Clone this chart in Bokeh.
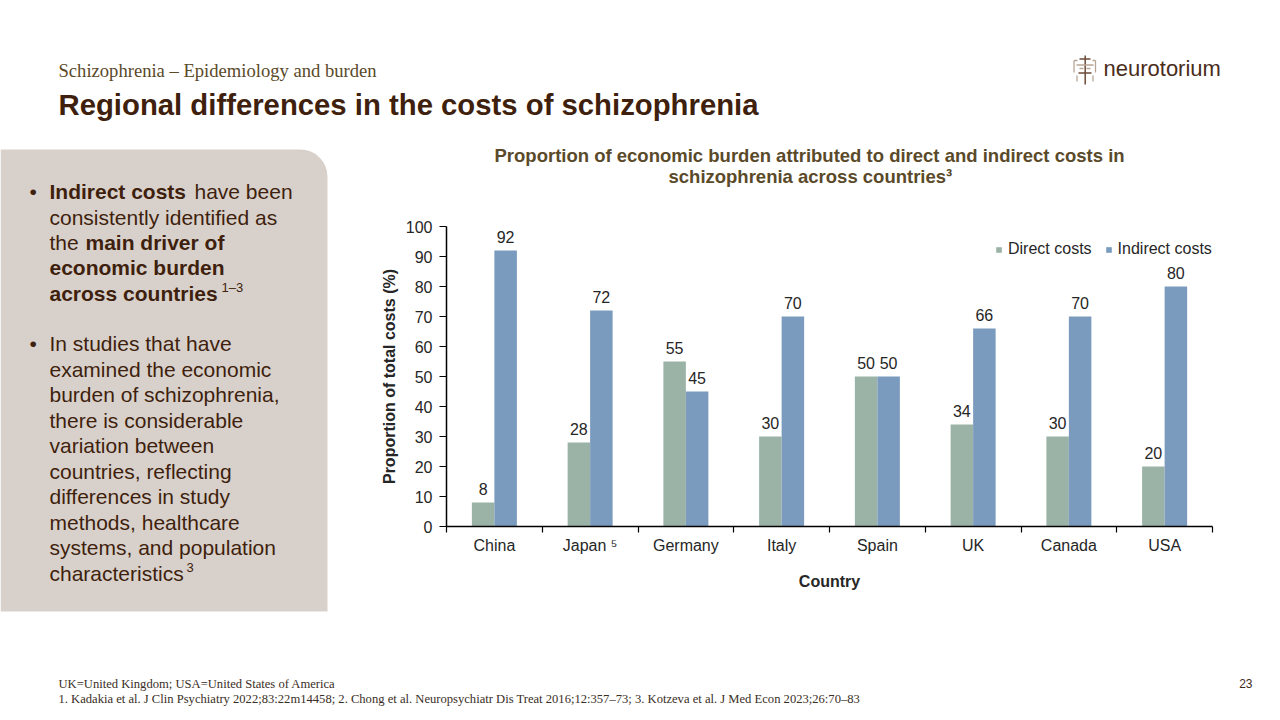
from bokeh.plotting import figure
from bokeh.models import (Range1d, FixedTicker, Label, LabelSet, BoxAnnotation,
                          ColumnDataSource, Legend, LegendItem)
from bokeh.layouts import row, column
from bokeh.core.properties import value
from bokeh.embed import file_html
from bokeh.resources import INLINE
import numpy as np

# ---------------- data ----------------
countries = ["China", "Japan", "Germany", "Italy", "Spain", "UK", "Canada", "USA"]
tick_labels = ["China", "Japan \u2075", "Germany", "Italy", "Spain", "UK", "Canada", "USA"]
direct = [8, 28, 55, 30, 50, 34, 30, 20]
indirect = [92, 72, 45, 70, 50, 66, 70, 80]
y_ticks = list(range(0, 101, 10))
series_names = ["Direct costs", "Indirect costs"]

# ---------------- styles ----------------
C_DIRECT = "#9BB3A7"
C_INDIRECT = "#7A9BBD"
C_PANEL = "#D8D1CB"
C_BROWN = "#3F1F0D"
C_OLIVE = "#5A4A2A"
C_TXT = "#262626"
SANS = "Liberation Sans"
SERIF = "Liberation Serif"


def deco(x0, x1, y0, y1, border_l=0, border_r=0):
    """A text/decoration figure; data coords = page pixels inside its frame."""
    f = figure(width=x1 - x0, height=y1 - y0,
               x_range=Range1d(x0 + border_l, x1 - border_r), y_range=Range1d(y1, y0),
               x_axis_location=None, y_axis_location=None, min_border=0,
               min_border_left=border_l, min_border_right=border_r,
               min_border_top=0, min_border_bottom=0,
               output_backend="svg", toolbar_location=None)
    f.outline_line_color = None
    f.grid.visible = False
    f.background_fill_color = "white"
    f.border_fill_color = "white"
    return f


def lab(f, px, py, text, size, color, bold=False, font=SANS, align="left", baseline="middle"):
    f.add_layout(Label(x=px, y=py, text=text, text_font=font, text_font_size=f"{size}px",
                       text_color=color, text_font_style="bold" if bold else "normal",
                       text_align=align, text_baseline=baseline))


# ---------------- chart figure (page x 340..1280, y 200..620) ----------------
CX0, CY0, CW, CH = 340, 200, 940, 420
FL, FR, FT, FB = 446, 1212, 226, 526
NX = len(countries)

p = figure(width=CW, height=CH, x_range=Range1d(0, NX), y_range=Range1d(0, 100),
           output_backend="svg", toolbar_location=None,
           min_border_left=FL - CX0, min_border_right=CX0 + CW - FR,
           min_border_top=FT - CY0, min_border_bottom=CY0 + CH - FB)
p.outline_line_color = None
p.grid.visible = False
p.background_fill_color = "white"
p.border_fill_color = "white"

centers = np.arange(NX) + 0.5
bw = 0.235
src = ColumnDataSource(dict(
    xd=centers - bw / 2, xi=centers + bw / 2,
    direct=direct, indirect=indirect,
    ld=[str(v) for v in direct], li=[str(v) for v in indirect]))

rd = p.vbar(x="xd", top="direct", width=bw, source=src, fill_color=C_DIRECT, line_color=None)
ri = p.vbar(x="xi", top="indirect", width=bw, source=src, fill_color=C_INDIRECT, line_color=None)

for xcol, ycol, tcol in (("xd", "direct", "ld"), ("xi", "indirect", "li")):
    p.add_layout(LabelSet(x=xcol, y=ycol, text=tcol, source=src, y_offset=8,
                          text_align="center", text_baseline="alphabetic",
                          text_font=value(SANS), text_font_size="16px", text_color=C_TXT))

xa = p.xaxis[0]
xa.ticker = FixedTicker(ticks=list(centers), minor_ticks=list(range(NX + 1)))
xa.major_label_overrides = {float(c): t for c, t in zip(centers, tick_labels)}
xa.major_tick_line_color = None
xa.major_tick_out = 6
xa.major_tick_in = 0
xa.minor_tick_line_color = "black"
xa.minor_tick_out = 6
xa.minor_tick_in = 0
xa.minor_tick_line_width = 1.2
xa.major_label_standoff = 4
xa.axis_label = "Country"
xa.axis_label_standoff = 16

ya = p.yaxis[0]
ya.ticker = FixedTicker(ticks=y_ticks)
ya.major_tick_out = 7
ya.major_tick_in = 0
ya.minor_tick_line_color = None
ya.major_label_standoff = 7
ya.axis_label = "Proportion of total costs (%)"
ya.axis_label_standoff = 5

for ax in (xa, ya):
    ax.axis_line_color = "black"
    ax.axis_line_width = 1.5
    ax.major_tick_line_width = 1.2
    ax.major_label_text_font = SANS
    ax.major_label_text_font_size = "16px"
    ax.major_label_text_color = C_TXT
    ax.axis_label_text_font = SANS
    ax.axis_label_text_font_size = "16px"
    ax.axis_label_text_font_style = "bold"
    ax.axis_label_text_color = C_TXT

legend = Legend(items=[LegendItem(label=series_names[0], renderers=[rd]),
                       LegendItem(label=series_names[1], renderers=[ri])],
                orientation="horizontal", location=(549, 268),
                glyph_width=7, glyph_height=7, label_standoff=6, spacing=13,
                padding=0, margin=0, border_line_color=None, background_fill_alpha=0,
                label_text_font=SANS, label_text_font_size="16px", label_text_color=C_TXT)
p.add_layout(legend)

# ---------------- header (page y 0..140) ----------------
hdr = deco(0, 1280, 0, 140)
lab(hdr, 58, 70, "Schizophrenia \u2013 Epidemiology and burden", 18.6, C_OLIVE, font=SERIF)
lab(hdr, 58, 104, "Regional differences in the costs of schizophrenia", 29.3, C_BROWN, bold=True)
LOGO_D = "#6B4A36"
LOGO_L = "#B9A595"
hdr.segment(x0=[1084.7, 1079, 1078], y0=[55, 58.5, 72.5], x1=[1084.7, 1090, 1091], y1=[84, 58.5, 72.5],
            line_color=LOGO_D, line_width=1.5)
hdr.segment(x0=[1076, 1073.5, 1095, 1076.5, 1092.5, 1073.5, 1092, 1079, 1086],
            y0=[64.5, 60, 60, 75, 75, 60, 60, 68, 68],
            x1=[1093, 1073.5, 1095, 1076.5, 1092.5, 1077, 1095, 1083, 1090],
            y1=[64.5, 72, 72, 81, 81, 60, 60, 68, 68],
            line_color=LOGO_L, line_width=1.3)
lab(hdr, 1103, 68, "neurotorium", 22, "#4A2C1A")

# ---------------- chart title (page x 340..1280, y 140..200) ----------------
# its frame is aligned with the chart frame below (page x 446..1212)
ttl = deco(340, 1280, 140, 200, border_l=FL - CX0, border_r=CX0 + CW - FR)
lab(ttl, 494, 155, "Proportion of economic burden attributed to direct and indirect costs in",
    18.5, C_OLIVE, bold=True)
lab(ttl, 668, 176, "schizophrenia across countries\u00b3", 18.5, C_OLIVE, bold=True)

# ---------------- left panel (page x 0..340, y 140..620) ----------------
lp = deco(0, 340, 140, 620)
lp.add_layout(BoxAnnotation(left=0, right=327, top=149, bottom=611, fill_color=C_PANEL,
                            fill_alpha=1, line_color=None, border_radius=(0, 27, 0, 0),
                            level="underlay"))
FS = 21
lab(lp, 29, 191, "\u2022", FS, C_BROWN)
lab(lp, 49, 191, "Indirect costs", FS, C_BROWN, bold=True)
lab(lp, 194, 191, "have been", FS, C_BROWN)
lab(lp, 49, 216.5, "consistently identified as", FS, C_BROWN)
lab(lp, 49, 242, "the", FS, C_BROWN)
lab(lp, 85, 242, "main driver of", FS, C_BROWN, bold=True)
lab(lp, 49, 267, "economic burden", FS, C_BROWN, bold=True)
lab(lp, 49, 292.5, "across countries", FS, C_BROWN, bold=True)
lab(lp, 221, 287, "1\u20133", 13, C_BROWN)

bullet2 = ["In studies that have", "examined the economic", "burden of schizophrenia,",
           "there is considerable", "variation between", "countries, reflecting",
           "differences in study", "methods, healthcare", "systems, and population",
           "characteristics"]
lab(lp, 29, 343, "\u2022", FS, C_BROWN)
for i, line in enumerate(bullet2):
    lab(lp, 49, 343 + i * 25.5, line, FS, C_BROWN)
lab(lp, 186, 567, "3", 13, C_BROWN)

# ---------------- footer (page y 620..720) ----------------
ftr = deco(0, 1280, 620, 720)
lab(ftr, 58, 683, "UK=United Kingdom; USA=United States of America", 12.6, "#3A2E25", font=SERIF)
lab(ftr, 58, 698, "1. Kadakia et al. J Clin Psychiatry 2022;83:22m14458; 2. Chong et al. "
    "Neuropsychiatr Dis Treat 2016;12:357\u201373; 3. Kotzeva et al. J Med Econ 2023;26:70\u201383",
    12.6, "#3A2E25", font=SERIF)
lab(ftr, 1252, 683, "23", 12, "#3F2A1A", align="right")

layout = column(hdr, row(lp, column(ttl, p)), ftr)
open("out.html", "w").write(file_html(layout, INLINE))
